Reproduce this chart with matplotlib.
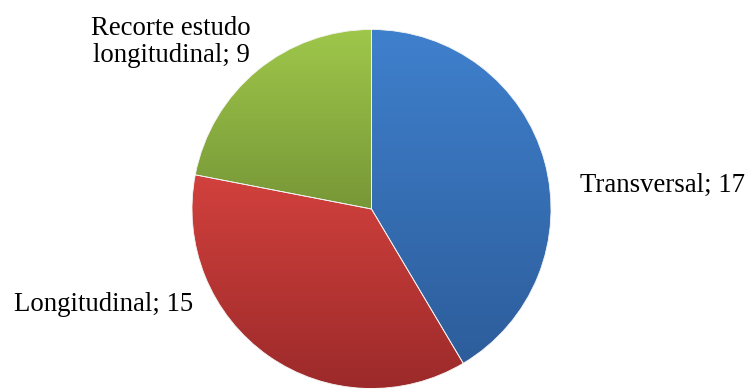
import numpy as np
import matplotlib.pyplot as plt
from matplotlib.colors import LinearSegmentedColormap

labels = ['Transversal', 'Longitudinal', 'Recorte estudo\nlongitudinal']
values = [17, 15, 9]
top_colors = ['#3f80cd', '#d2413d', '#9fc74a']
bottom_colors = ['#2d5d9b', '#9c2a2a', '#779737']

plt.rcParams['font.family'] = ['Liberation Serif', 'DejaVu Serif']

fig = plt.figure(figsize=(7.45, 3.89), dpi=100)
ax = fig.add_axes([0, 0, 1, 1])

wedges, _ = ax.pie(values, startangle=90, counterclock=False,
                   center=(371.5, 180), radius=179.5,
                   wedgeprops=dict(linewidth=0.6, edgecolor='#f4f4f4'))

# vertical gradient in every slice, light at the top, dark at the bottom
grad = np.linspace(0, 1, 256).reshape(-1, 1)
for w, c_top, c_bot in zip(wedges, top_colors, bottom_colors):
    w.set_facecolor('none')
    w.set_zorder(3)
    bb = w.get_path().get_extents()
    cmap = LinearSegmentedColormap.from_list('g', [c_bot, c_top])
    im = ax.imshow(grad, cmap=cmap, origin='lower', aspect='auto',
                   extent=[bb.x0, bb.x1, bb.y0, bb.y1], zorder=2)
    im.set_clip_path(w)

ax.set_xlim(0, 745)
ax.set_ylim(0, 389)
ax.axis('off')

fs = 19.3
ax.text(580, 197, f'{labels[0]}; {values[0]}', fontsize=fs, ha='left', va='baseline')
ax.text(14, 78, f'{labels[1]}; {values[1]}', fontsize=fs, ha='left', va='baseline')
ax.text(171, 327, f'{labels[2]}; {values[2]}', fontsize=fs, ha='center',
        va='baseline', multialignment='center', linespacing=1.1)

plt.savefig('out.png', dpi=100)
